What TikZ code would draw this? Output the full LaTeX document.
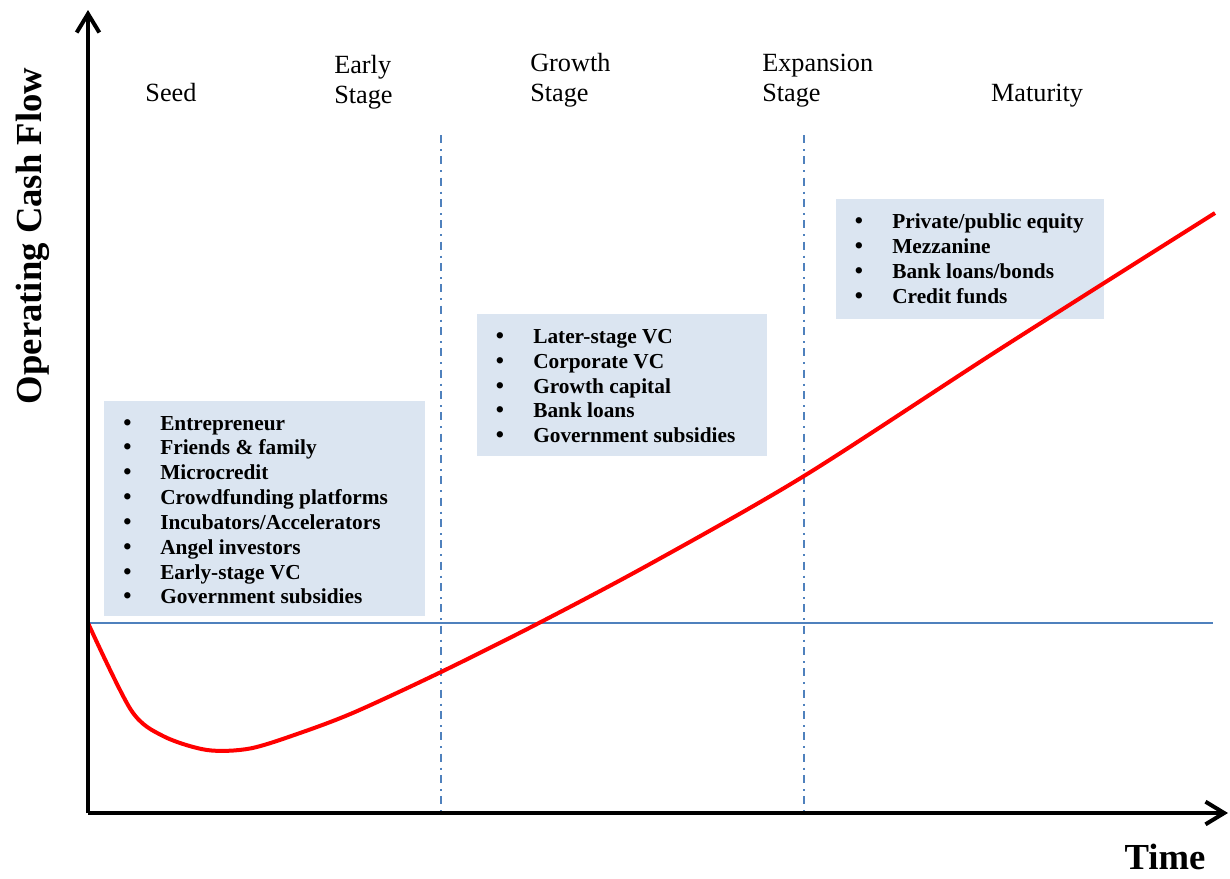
\documentclass[tikz,border=0pt]{standalone}
\usepackage{fontspec}
\setmainfont{Liberation Serif}
\usetikzlibrary{arrows.meta}
\definecolor{fundfill}{HTML}{DBE5F1}
\definecolor{guide}{HTML}{4F81BD}
\begin{document}
\begin{tikzpicture}[x=0.75pt,y=-0.75pt,
    axis/.style={line width=3pt,-{Straight Barb[length=14pt,width=17pt,line width=3pt]}},
    stagename/.style={inner sep=0pt,font=\fontsize{19.7}{24}\selectfont},
    fund/.style={inner sep=0pt,anchor=base west,font=\fontsize{16}{19}\selectfont\bfseries},
    dot/.style={inner sep=0pt,anchor=base,font=\fontsize{17.5}{19}\selectfont\bfseries},
    phase/.style={guide,line width=1.5pt,dash pattern=on 6pt off 4.5pt on 1.5pt off 4pt},
    cashflow/.style={red,line width=3pt,line join=round}]
    \useasboundingbox (0,0) rectangle (1230,878);
    % funding boxes
    \fill [fundfill] (104,401) rectangle (425,616);
    \fill [fundfill] (477,314) rectangle (767,456);
    \fill [fundfill] (836,199) rectangle (1104,319);
    \foreach \txt [count=\i] in {Entrepreneur,Friends \& family,Microcredit,Crowdfunding platforms,Incubators/Accelerators,Angel investors,Early-stage VC,Government subsidies} {
      \node [dot] (seedb\i) at (127.5,{430+24.85*(\i-1)}) {\textbullet};
      \node [fund] (seed\i) at (160,{430+24.85*(\i-1)}) {\txt};
    }
    \foreach \txt [count=\i] in {Later-stage VC,Corporate VC,Growth capital,Bank loans,Government subsidies} {
      \node [dot] (growb\i) at (500,{343.5+24.8*(\i-1)}) {\textbullet};
      \node [fund] (grow\i) at (533,{343.5+24.8*(\i-1)}) {\txt};
    }
    \foreach \txt [count=\i] in {Private/public equity,Mezzanine,Bank loans/bonds,Credit funds} {
      \node [dot] (matb\i) at (859,{228.5+25*(\i-1)}) {\textbullet};
      \node [fund] (mat\i) at (892,{228.5+25*(\i-1)}) {\txt};
    }
    % stage names
    \node [stagename,anchor=base] (seed) at (171,101) {Seed};
    \node [stagename,anchor=base west] (early) at (334,73.5) {Early};
    \node [stagename,anchor=base west] (earlyb) at (334,103.5) {Stage};
    \node [stagename,anchor=base west] (growth) at (530,71) {Growth};
    \node [stagename,anchor=base west] (growthb) at (530,101) {Stage};
    \node [stagename,anchor=base west] (expansion) at (762,71.5) {Expansion};
    \node [stagename,anchor=base west] (expansionb) at (762,101.5) {Stage};
    \node [stagename,anchor=base] (maturity) at (1037,101.5) {Maturity};
    % guides
    \coordinate (origin) at (88,813);
    \coordinate (ytop) at (88,10);
    \coordinate (xend) at (1228,813);
    \coordinate (zero) at (88,623);
    \coordinate (zeroend) at (1213,623);
    \draw [guide,line width=1.5pt] (zero) -- (zeroend);
    \draw [phase] (441,135) -- (441,813);
    \draw [phase] (804,135) -- (804,813);
    % cash flow curve
    \draw [cashflow] plot [smooth,tension=0.5] coordinates {(zero) (131,710) (163,736) (207,750) (250,748.5) (300,733) (355,712) (441,672) (537,624) (650,564) (804,476) (1000,349) (1215,213)};
    % axes
    \draw [axis] (origin) -- (ytop);
    \draw [axis] (origin) -- (xend);
    \node [inner sep=0pt,anchor=base,rotate=90,font=\fontsize{27.5}{33}\selectfont\bfseries] (ylabel) at (41,236) {Operating Cash Flow};
    \node [inner sep=0pt,anchor=base,font=\fontsize{27.5}{33}\selectfont\bfseries] (xlabel) at (1165,869) {Time};
\end{tikzpicture}
\end{document}
